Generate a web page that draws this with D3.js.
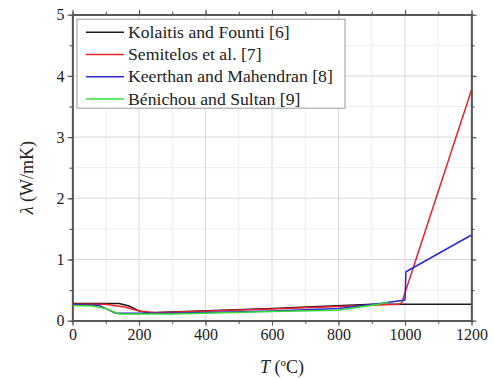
<!DOCTYPE html>
<html>
<head>
<meta charset="utf-8">
<script src="https://cdn.jsdelivr.net/npm/d3@7"></script>
<style>
  body { margin: 0; background: #fff; }
</style>
</head>
<body>
<div id="chart"></div>
<script>
// series: [T (°C), lambda (W/mK)]
const kolaitis = [[0, 0.28], [140, 0.28], [170, 0.24], [200, 0.16], [230, 0.13], [600, 0.2], [900, 0.27], [1200, 0.27]];
const semitelos = [[0, 0.27], [100, 0.27], [160, 0.22], [200, 0.16], [250, 0.13], [600, 0.19], [800, 0.23], [980, 0.27], [990, 0.29], [1200, 3.77]];
const keerthan = [[0, 0.26], [80, 0.25], [130, 0.12], [300, 0.12], [600, 0.16], [800, 0.2], [925, 0.28], [990, 0.33], [1000, 0.34], [1003, 0.8], [1200, 1.4]];
const benichou = [[0, 0.25], [60, 0.24], [100, 0.2], [140, 0.11], [300, 0.11], [600, 0.15], [800, 0.17], [920, 0.27], [950, 0.3]];

const seriesNames = ['Kolaitis and Founti [6]', 'Semitelos et al. [7]', 'Keerthan and Mahendran [8]', 'Bénichou and Sultan [9]'];
const seriesColors = ['#1a1a1a', '#e8232b', '#2a2ad6', '#35dd35'];
const xTicks = [0, 200, 400, 600, 800, 1000, 1200];
const yTicks = [0, 1, 2, 3, 4, 5];

const width = 494, height = 379;
const margin = { left: 72.5, right: 22.5, top: 14.7, bottom: 58.3 };
const iw = width - margin.left - margin.right;
const ih = height - margin.top - margin.bottom;
const serif = 'Liberation Serif';

const svg = d3.select('#chart').append('svg')
  .attr('width', width)
  .attr('height', height)
  .style('font-family', serif);

const x = d3.scaleLinear().domain([0, 1200]).range([0, iw]);
const y = d3.scaleLinear().domain([0, 5]).range([ih, 0]);

const g = svg.append('g')
  .attr('transform', `translate(${margin.left},${margin.top})`);

const xMinor = d3.range(0, 1201, 100);
const yMinor = d3.range(0, 5.01, 0.5);

// grid
g.append('g').selectAll('line')
  .data(xMinor.filter(d => d > 0 && d < 1200))
  .enter().append('line')
  .attr('x1', d => x(d)).attr('x2', d => x(d))
  .attr('y1', 0).attr('y2', ih)
  .attr('stroke', d => d % 200 === 0 ? '#d8d8d8' : '#eeeeee')
  .attr('stroke-width', 1);

g.append('g').selectAll('line')
  .data(yMinor.filter(d => d > 0 && d < 5))
  .enter().append('line')
  .attr('y1', d => y(d)).attr('y2', d => y(d))
  .attr('x1', 0).attr('x2', iw)
  .attr('stroke', d => d % 1 === 0 ? '#d8d8d8' : '#eeeeee')
  .attr('stroke-width', 1);

// axes
const axisColor = '#555';
function styleAxis(sel) {
  sel.attr('font-family', serif).attr('font-size', 16);
  sel.select('.domain').attr('stroke', axisColor).attr('stroke-width', 1.3);
  sel.selectAll('.tick line').attr('stroke', axisColor).attr('stroke-width', 1.1);
  sel.selectAll('.tick text')
    .style('font-family', serif)
    .style('font-size', '16px')
    .attr('fill', '#222');
}

const fmt = d3.format('d');
const axes = [
  { gen: d3.axisBottom(x).tickValues(xTicks).tickSize(5).tickPadding(3).tickFormat(fmt), t: `translate(0,${ih})`, minor: d3.axisBottom(x).tickValues(xMinor).tickSize(3).tickFormat('') },
  { gen: d3.axisTop(x).tickValues(xTicks).tickSize(5).tickFormat(''), t: 'translate(0,0)', minor: d3.axisTop(x).tickValues(xMinor).tickSize(3).tickFormat('') },
  { gen: d3.axisLeft(y).tickValues(yTicks).tickSize(5).tickPadding(3).tickFormat(fmt), t: 'translate(0,0)', minor: d3.axisLeft(y).tickValues(yMinor).tickSize(3).tickFormat('') },
  { gen: d3.axisRight(y).tickValues(yTicks).tickSize(5).tickFormat(''), t: `translate(${iw},0)`, minor: d3.axisRight(y).tickValues(yMinor).tickSize(3).tickFormat('') },
];
axes.forEach(a => {
  g.append('g').attr('transform', a.t).call(a.minor.tickSizeOuter(0)).call(styleAxis);
  g.append('g').attr('transform', a.t).call(a.gen.tickSizeOuter(0)).call(styleAxis);
});

// lines
const line = d3.line().x(d => x(d[0])).y(d => y(d[1]));
[kolaitis, semitelos, keerthan, benichou].forEach((s, i) => {
  g.append('path')
    .datum(s)
    .attr('fill', 'none')
    .attr('stroke', seriesColors[i])
    .attr('stroke-width', 1.5)
    .attr('stroke-linejoin', 'round')
    .attr('d', line);
});
// re-draw frame on top
g.append('rect')
  .attr('width', iw).attr('height', ih)
  .attr('fill', 'none').attr('stroke', axisColor).attr('stroke-width', 1.3);

// legend
const legend = g.append('g').attr('transform', 'translate(4.5,4.5)');
legend.append('rect')
  .attr('width', 268).attr('height', 89)
  .attr('fill', '#fff').attr('stroke', '#9a9a9a').attr('stroke-width', 1);
seriesNames.forEach((name, i) => {
  const ry = 13 + i * 22.3;
  legend.append('line')
    .attr('x1', 9).attr('x2', 47)
    .attr('y1', ry).attr('y2', ry)
    .attr('stroke', seriesColors[i]).attr('stroke-width', 1.5);
  legend.append('text')
    .attr('x', 51).attr('y', ry + 5.5)
    .attr('fill', '#222')
    .style('font-family', serif)
    .style('font-size', '17.7px')
    .text(name);
});

// axis labels
const xl = svg.append('text')
  .attr('x', margin.left + iw / 2 + 10)
  .attr('y', 373)
  .attr('text-anchor', 'middle')
  .attr('fill', '#222')
  .style('font-family', serif)
  .style('font-size', '18px');
xl.append('tspan').style('font-style', 'italic').text('T');
xl.append('tspan').text(' (');
xl.append('tspan').attr('dy', -7).style('font-size', '11px').text('o');
xl.append('tspan').attr('dy', 7).text('C)');

const yl = svg.append('text')
  .attr('transform', `translate(33,${margin.top + ih / 2 + 10}) rotate(-90)`)
  .attr('text-anchor', 'middle')
  .attr('fill', '#222')
  .style('font-family', serif)
  .style('font-size', '18px');
yl.append('tspan').style('font-style', 'italic').text('λ');
yl.append('tspan').text(' (W/mK)');
</script>
</body>
</html>
